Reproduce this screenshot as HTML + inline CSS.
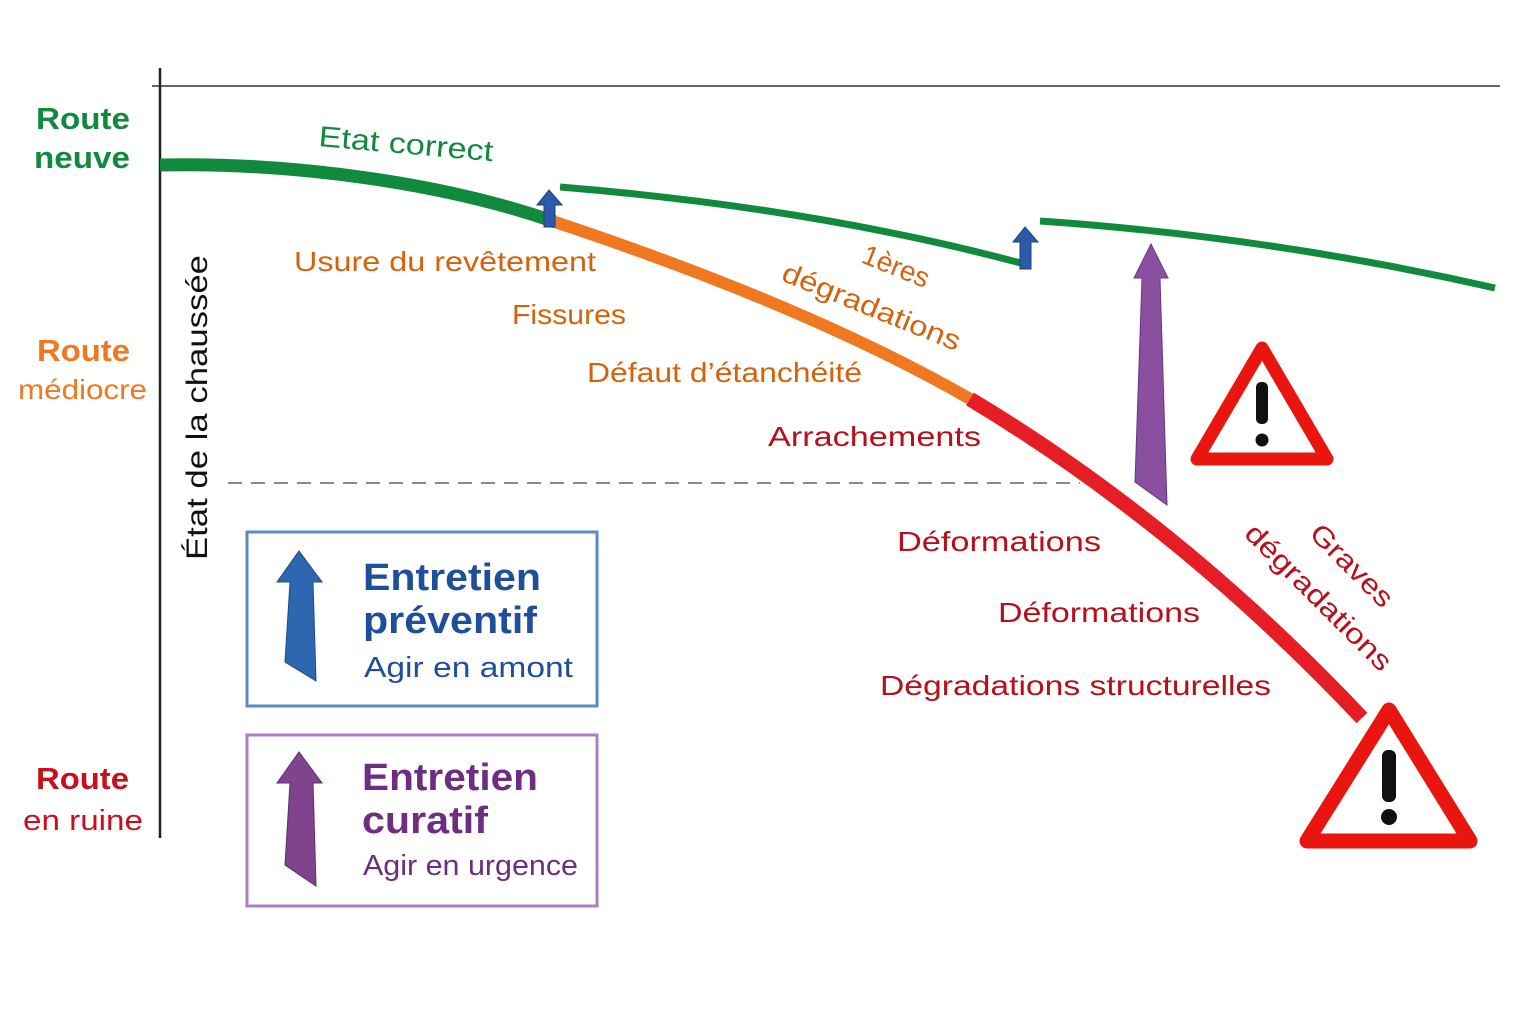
<!DOCTYPE html>
<html><head><meta charset="utf-8"><style>
html,body{margin:0;padding:0;background:#fff;}
svg{display:block;}
text{font-family:"Liberation Sans","DejaVu Sans",sans-serif;}
</style></head><body>
<svg width="1536" height="1024" viewBox="0 0 1536 1024" xmlns="http://www.w3.org/2000/svg">
<rect width="1536" height="1024" fill="#fff"/>
<line x1="160" y1="68" x2="160" y2="838" stroke="#222" stroke-width="2.5"/>
<line x1="152" y1="86" x2="1500" y2="86" stroke="#333" stroke-width="1.5"/>
<line x1="228" y1="483" x2="1080" y2="483" stroke="#888" stroke-width="2" stroke-dasharray="14,9"/>

<path d="M160,165 C300,162 450,185 555,222" fill="none" stroke="#128a3e" stroke-width="13"/>
<path d="M552,221 C700,270 850,330 972,400" fill="none" stroke="#f07820" stroke-width="12"/>
<path d="M970,399 C1130,495 1260,610 1362,718" fill="none" stroke="#e41e24" stroke-width="15"/>

<path d="M560,187 C720,200 880,225 1028,265" fill="none" stroke="#128a3e" stroke-width="7"/>
<path d="M1040,221 C1200,232 1350,255 1495,288" fill="none" stroke="#128a3e" stroke-width="7"/>

<polygon points="549,190 562,205 555,205 555,227 544,227 544,205 537,205" fill="#2a5aa8" stroke="#1d3f80" stroke-width="1"/>
<polygon points="1025,227 1038,242 1031,242 1031,269 1020,269 1020,242 1013,242" fill="#2a5aa8" stroke="#1d3f80" stroke-width="1"/>

<polygon points="1151,244 1168,278 1160,278 1167,505 1135,482 1142,278 1134,278" fill="#8a4f9e" stroke="#6a3680" stroke-width="1"/>

<g stroke-linejoin="round">
<polygon points="1262,348 1327,459 1197,459" fill="#fff" stroke="#e8160e" stroke-width="13"/>
<rect x="1256" y="382" width="12" height="42" rx="5" fill="#111"/>
<circle cx="1262" cy="440" r="6.5" fill="#111"/>
<polygon points="1389,710 1470,841 1307,841" fill="#fff" stroke="#e8160e" stroke-width="15"/>
<rect x="1382" y="750" width="14" height="52" rx="6" fill="#111"/>
<circle cx="1389" cy="817" r="8" fill="#111"/>
</g>

<g font-weight="bold" font-size="31" lengthAdjust="spacingAndGlyphs">
<text x="36" y="129" fill="#128a3e" textLength="94" lengthAdjust="spacingAndGlyphs">Route</text>
<text x="34" y="168" fill="#128a3e" textLength="96" lengthAdjust="spacingAndGlyphs">neuve</text>
<text x="37" y="361" fill="#f07820" textLength="93" lengthAdjust="spacingAndGlyphs">Route</text>
<text x="18" y="399" fill="#f07820" font-size="28" font-weight="normal" textLength="129" lengthAdjust="spacingAndGlyphs">médiocre</text>
<text x="36" y="789" fill="#c8101c" textLength="93" lengthAdjust="spacingAndGlyphs">Route</text>
<text x="23" y="830" fill="#c8101c" font-size="29" font-weight="normal" textLength="120" lengthAdjust="spacingAndGlyphs">en ruine</text>
</g>
<text transform="translate(207,560) rotate(-90)" font-size="30" fill="#111" textLength="305" lengthAdjust="spacingAndGlyphs">État de la chaussée</text>

<text transform="translate(318,146) rotate(5)" font-size="29" fill="#128a3e" textLength="175" lengthAdjust="spacingAndGlyphs">Etat correct</text>
<g font-size="28" fill="#d4630e">
<text x="294" y="271" textLength="302" lengthAdjust="spacingAndGlyphs">Usure du revêtement</text>
<text x="512" y="324" textLength="114" lengthAdjust="spacingAndGlyphs">Fissures</text>
<text x="587" y="382" textLength="275" lengthAdjust="spacingAndGlyphs">Défaut d’étanchéité</text>
<text transform="translate(860,262) rotate(22)" textLength="70" lengthAdjust="spacingAndGlyphs">1ères</text>
<text transform="translate(780,280) rotate(22)" textLength="190" lengthAdjust="spacingAndGlyphs">dégradations</text>
</g>
<g font-size="28" fill="#b8101a">
<text x="768" y="446" textLength="213" lengthAdjust="spacingAndGlyphs">Arrachements</text>
<text x="897" y="551" textLength="204" lengthAdjust="spacingAndGlyphs">Déformations</text>
<text x="998" y="622" textLength="202" lengthAdjust="spacingAndGlyphs">Déformations</text>
<text x="880" y="695" textLength="391" lengthAdjust="spacingAndGlyphs">Dégradations structurelles</text>
<text transform="translate(1308,535) rotate(45)" textLength="105" lengthAdjust="spacingAndGlyphs">Graves</text>
<text transform="translate(1243,535) rotate(45)" textLength="195" lengthAdjust="spacingAndGlyphs">dégradations</text>
</g>

<rect x="247" y="532" width="350" height="174" fill="#fff" stroke="#5a8cc0" stroke-width="3"/>
<polygon points="299,551 322,582 313,582 316,681 285,662 290,582 277,582" fill="#2f66b0" stroke="#1d4a8a" stroke-width="1"/>
<text x="363" y="590" font-size="38" font-weight="bold" fill="#1f4f9a" textLength="178" lengthAdjust="spacingAndGlyphs">Entretien</text>
<text x="363" y="633" font-size="38" font-weight="bold" fill="#1f4f9a" textLength="174" lengthAdjust="spacingAndGlyphs">préventif</text>
<text x="364" y="677" font-size="29" fill="#1f4f9a" textLength="209" lengthAdjust="spacingAndGlyphs">Agir en amont</text>

<rect x="247" y="735" width="350" height="171" fill="#fff" stroke="#b07cc0" stroke-width="3"/>
<polygon points="299,752 322,783 313,783 316,886 285,865 290,783 277,783" fill="#80448f" stroke="#5f2a70" stroke-width="1"/>
<text x="362" y="790" font-size="38" font-weight="bold" fill="#6c2d82" textLength="176" lengthAdjust="spacingAndGlyphs">Entretien</text>
<text x="362" y="833" font-size="38" font-weight="bold" fill="#6c2d82" textLength="126" lengthAdjust="spacingAndGlyphs">curatif</text>
<text x="363" y="875" font-size="29" fill="#6c2d82" textLength="215" lengthAdjust="spacingAndGlyphs">Agir en urgence</text>
</svg>
</body></html>
